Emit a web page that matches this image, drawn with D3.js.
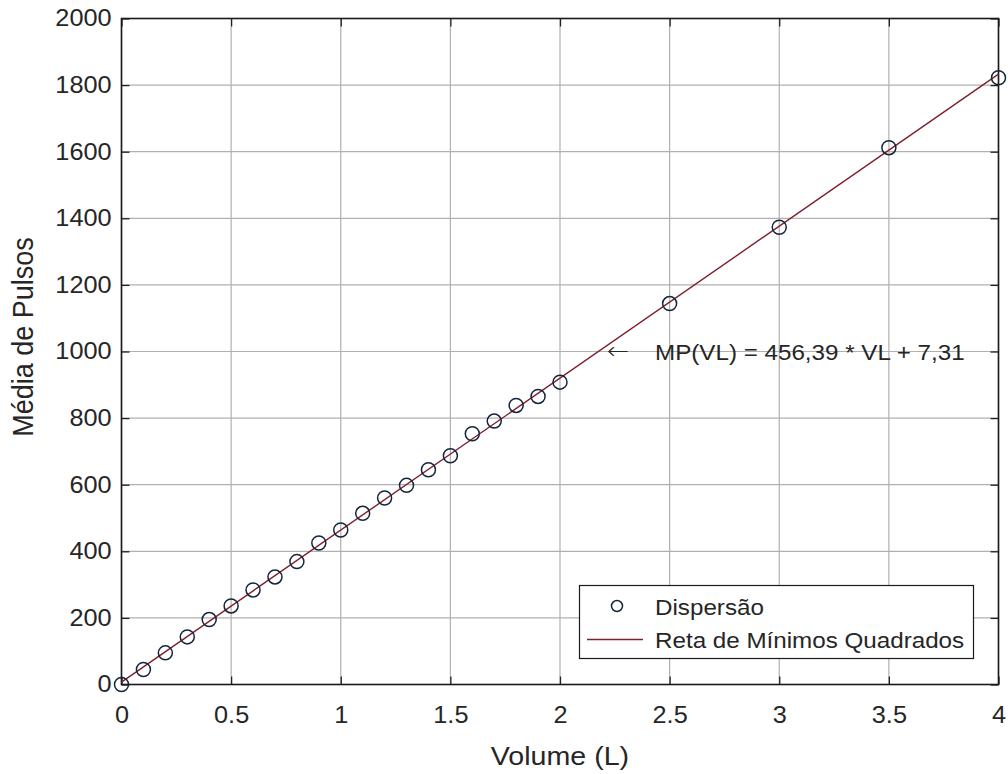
<!DOCTYPE html>
<html><head><meta charset="utf-8">
<script src="https://cdn.jsdelivr.net/npm/d3@7"></script>
<style>body{margin:0;background:#fff}svg{display:block;font-family:"Liberation Sans",Arial,sans-serif}</style>
</head><body><svg id="c" width="1008" height="774"></svg>
<script>
const volumes = [0,0.1,0.2,0.3,0.4,0.5,0.6,0.7,0.8,0.9,1.0,1.1,1.2,1.3,1.4,1.5,1.6,1.7,1.8,1.9,2.0,2.5,3.0,3.5,4.0];
const pulses  = [0,45,95,143,195,236,284,323,369,425,464,514,560,598,645,687,753,791,838,865,908,1144,1373,1612,1822];
const slope = 456.39, intercept = 7.31;
const xTicks = [0,0.5,1,1.5,2,2.5,3,3.5,4];
const yTicks = [0,200,400,600,800,1000,1200,1400,1600,1800,2000];
const xLabel = "Volume (L)", yLabel = "Média de Pulsos";
const legendLabels = ["Dispersão","Reta de Mínimos Quadrados"];
const annotation = "MP(VL) = 456,39 * VL + 7,31";

const L=121.5, R=998.5, T=18.5, B=684.5;
const SX = 1.1, FS = 23;
const txtColor = "#262626";
const svg = d3.select("#c");
const x = d3.scaleLinear().domain([0,4]).range([L,R]);
const y = d3.scaleLinear().domain([0,2000]).range([B,T]);

function stretchedText(parent, px, py, str, size, anchor) {
  return parent.append("text")
    .attr("transform", `translate(${px},${py}) scale(${SX},1)`)
    .attr("text-anchor", anchor || "start")
    .attr("font-size", size + "px").attr("fill", txtColor).text(str);
}

// grid
svg.append("g").selectAll("line").data(xTicks).join("line")
  .attr("x1",d=>x(d)).attr("x2",d=>x(d)).attr("y1",T).attr("y2",B)
  .attr("stroke","#b0b0b0").attr("stroke-width",1.2);
svg.append("g").selectAll("line").data(yTicks).join("line")
  .attr("y1",d=>y(d)).attr("y2",d=>y(d)).attr("x1",L).attr("x2",R)
  .attr("stroke","#b0b0b0").attr("stroke-width",1.2);

// axes with inward ticks
const tickStyle = g => { g.select(".domain").remove();
  g.selectAll(".tick line").attr("stroke","#222").attr("stroke-width",1.3);
  g.selectAll(".tick text").attr("fill",txtColor).attr("transform",`scale(${SX},1)`)
   .style("font-size",FS+"px").style("font-family","'Liberation Sans',Arial,sans-serif"); };
svg.append("g").attr("transform",`translate(0,${B})`)
  .call(d3.axisBottom(x).tickValues(xTicks).tickFormat(d3.format("")).tickSizeInner(-8).tickSizeOuter(0).tickPadding(22))
  .call(tickStyle);
svg.append("g").attr("transform",`translate(0,${T})`)
  .call(d3.axisTop(x).tickValues(xTicks).tickFormat("").tickSizeInner(-8).tickSizeOuter(0))
  .call(tickStyle);
svg.append("g").attr("transform",`translate(${L},0)`)
  .call(d3.axisLeft(y).tickValues(yTicks).tickFormat(d3.format("d")).tickSizeInner(-8).tickSizeOuter(0).tickPadding(9))
  .call(tickStyle);
svg.append("g").attr("transform",`translate(${R},0)`)
  .call(d3.axisRight(y).tickValues(yTicks).tickFormat("").tickSizeInner(-8).tickSizeOuter(0))
  .call(tickStyle);

svg.append("rect").attr("x",L).attr("y",T).attr("width",R-L).attr("height",B-T)
  .attr("fill","none").attr("stroke","#1a1a1a").attr("stroke-width",1.6);

// fit line
const fit = [0,4].map(v=>[v, slope*v+intercept]);
svg.append("path").datum(fit)
  .attr("d", d3.line().x(d=>x(d[0])).y(d=>y(d[1])))
  .attr("stroke","#7d1f2c").attr("stroke-width",1.4).attr("fill","none");

// scatter
svg.append("g").selectAll("circle").data(volumes.map((v,i)=>[v,pulses[i]])).join("circle")
  .attr("cx",d=>x(d[0])).attr("cy",d=>y(d[1])).attr("r",7)
  .attr("fill","none").attr("stroke","#15253a").attr("stroke-width",1.5);

// annotation
stretchedText(svg, 607, 359, "←", 24).attr("font-family","'DejaVu Sans',sans-serif").attr("font-weight","200");
stretchedText(svg, 655, 360, annotation, 22);

// axis labels
stretchedText(svg, (L+R)/2, 765, xLabel, 26, "middle");
svg.append("text").attr("transform",`translate(33,337) scale(${SX},1) rotate(-90)`).attr("text-anchor","middle")
  .attr("font-size","27px").attr("fill",txtColor).text(yLabel);

// legend
const lg = svg.append("g");
lg.append("rect").attr("x",579.5).attr("y",585.5).attr("width",394).attr("height",73)
  .attr("fill","#fff").attr("stroke","#1a1a1a").attr("stroke-width",1.2);
lg.append("circle").attr("cx",617).attr("cy",606).attr("r",5.5).attr("fill","none").attr("stroke","#15253a").attr("stroke-width",1.5);
lg.append("line").attr("x1",587).attr("x2",643).attr("y1",639.5).attr("y2",639.5).attr("stroke","#7d1f2c").attr("stroke-width",1.4);
stretchedText(lg, 655, 615, legendLabels[0], 22);
stretchedText(lg, 655, 648, legendLabels[1], 22);
</script></body></html>
